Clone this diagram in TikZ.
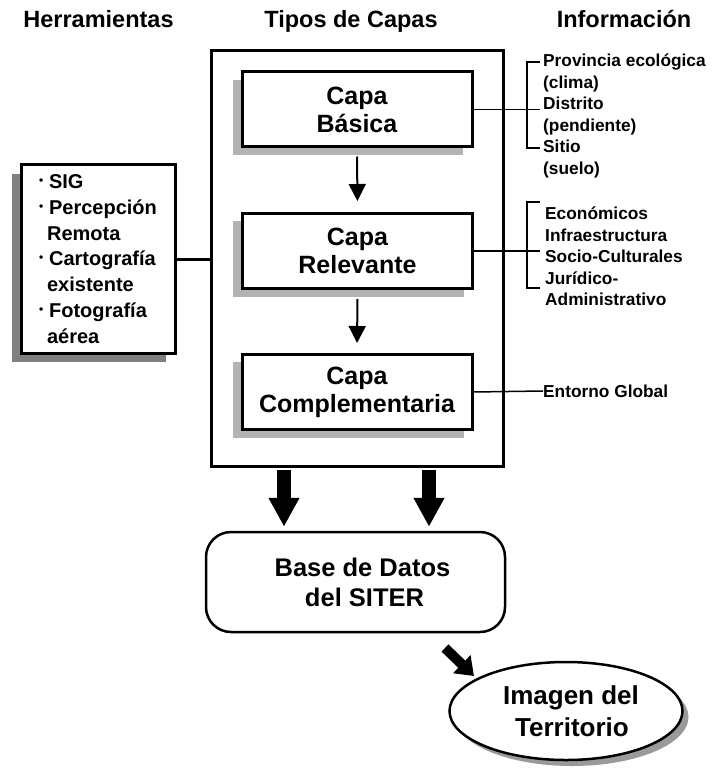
\documentclass[tikz,border=0pt]{standalone}
\usepackage{fontspec}
\setmainfont{Liberation Sans}
\usetikzlibrary{arrows.meta,shapes.geometric}
\definecolor{shlight}{HTML}{B3B3B3}
\definecolor{shdark}{HTML}{808080}
\definecolor{shell}{HTML}{9A9A9A}
\newcommand\bul{\makebox[10pt][l]{\raisebox{4pt}{\fontsize{12}{12}\selectfont •}}}
\tikzset{
  header/.style={font=\fontsize{23.5}{26}\selectfont\bfseries, anchor=base, inner sep=0},
  capabox/.style={draw, line width=3pt, fill=white, minimum width=230pt, minimum height=75pt, inner sep=0, align=center,
    font=\fontsize{25}{28}\selectfont\bfseries},
  infotext/.style={anchor=west, inner sep=0, align=left, font=\fontsize{17.3}{21.6}\selectfont\bfseries},
  thinline/.style={line width=1.5pt},
  smallarrow/.style={line width=2pt, -{Triangle[width=17pt,length=17pt]}},
  bigarrow/.style={line width=14pt, -{Triangle[width=29pt,length=29pt]}},
  diagarrow/.style={line width=10pt, -{Triangle[width=24pt,length=17pt]}},
}
\begin{document}
\begin{tikzpicture}[x=1pt,y=-1pt]
\fill[white] (0,0) rectangle (712,770);
\useasboundingbox (0,0) rectangle (712,770);

% headers
\node[header] (h1) at (98.5,28) {Herramientas};
\node[header] (h2) at (351,28) {Tipos de Capas};
\node[header] (h3) at (624,28) {Información};

% outer box
\node[draw, line width=3pt, minimum width=292pt, minimum height=415pt, inner sep=0] (outer) at (357,258.5) {};

% capa boxes with shadows
\fill[shlight] (233,80) rectangle (463,155);
\node[capabox] (b1) at (357,109.5) {Capa\\Básica};
\fill[shlight] (233,221) rectangle (464,297);
\node[capabox] (b2) at (357.5,251) {Capa\\Relevante};
\fill[shlight] (233,362) rectangle (464,438);
\node[capabox] (b3) at (357,392) {Capa\\Complementaria};

\draw[smallarrow, shorten <=8pt, shorten >=11pt] (b1.south) -- (b2.north);
\draw[smallarrow, shorten <=9pt, shorten >=10pt] (b2.south) -- (b3.north);

% tools box
\fill[shdark] (12,174) rectangle (166,362);
\node[draw, line width=3pt, fill=white, minimum width=154pt, minimum height=188pt, inner sep=0, align=left,
  font=\fontsize{20}{25.8}\selectfont\bfseries] (tools) at (98,259)
  {\bul SIG\\\bul Percepción\\\hspace*{8pt}Remota\\\bul Cartografía\\\hspace*{8pt}existente\\\bul Fotografía\\\hspace*{8pt}aérea};
\draw[line width=3pt] (tools.east) -- (tools.east -| outer.west);

% information texts
\node[infotext] (i1) at (543,116) {Provincia ecológica\\(clima)\\Distrito\\(pendiente)\\Sitio\\(suelo)};
\node[infotext] (i2) at (545,256.5) {Económicos\\Infraestructura\\Socio-Culturales\\Jurídico-\\Administrativo};
\node[infotext] (i3) at (543,391) {Entorno Global};

\draw[thinline] (b1.east) -- (540,109.5);
\draw[thinline] (540,62) -- (527,62) -- (527,148) -- (540,148);
\draw[thinline] (b2.east) -- (540,251);
\draw[thinline] (540,202) -- (527,202) -- (527,288) -- (540,288);
\draw[thinline] (b3.east) -- (i3.west);

% database
\node[draw, line width=2.5pt, rounded corners=25pt, minimum width=299pt, minimum height=100pt, inner sep=0, align=center,
  font=\fontsize{25.5}{30}\selectfont\bfseries] (db) at (355.5,582) {\hspace*{14pt}Base de Datos\\\hspace*{18pt}del SITER};

\draw[bigarrow, shorten >=4pt] ([yshift=-2pt]outer.south -| 284,0) -- (db.north -| 284,0);
\draw[bigarrow, shorten >=4pt] ([yshift=-2pt]outer.south -| 429,0) -- (db.north -| 429,0);

% image ellipse
\fill[shell] (572,717) ellipse [x radius=116.5pt, y radius=49pt];
\node[draw, ellipse, line width=2.5pt, fill=white, minimum width=233pt, minimum height=98pt, inner sep=0, align=center,
  font=\fontsize{26}{32}\selectfont\bfseries] (img) at (566,711) {\hspace*{10pt}Imagen del\\\hspace*{12pt}Territorio};

\coordinate (d1) at (445,648);
\coordinate (d2) at (474,676);
\draw[diagarrow] (d1) -- (d2);
\end{tikzpicture}
\end{document}
